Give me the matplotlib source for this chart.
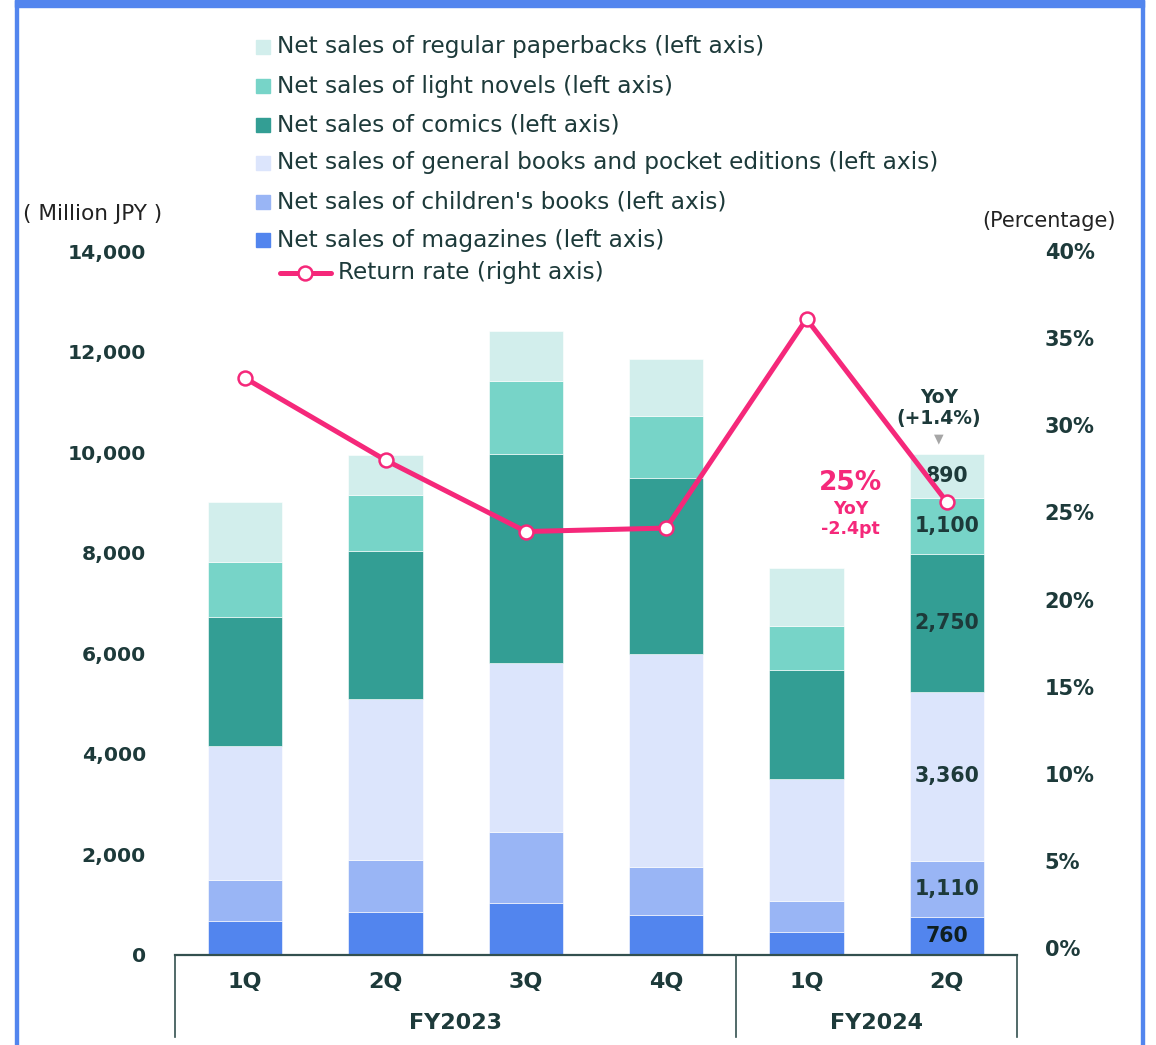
import matplotlib
matplotlib.use('Agg')
import matplotlib.pyplot as plt
from matplotlib.patches import Rectangle
from matplotlib.lines import Line2D

# ---------------- data ----------------
quarters = ['1Q', '2Q', '3Q', '4Q', '1Q', '2Q']
fiscal_years = ['FY2023', 'FY2024']
fy_spans = [(0, 3), (4, 5)]

magazines = [680, 860, 1030, 800, 460, 760]
childrens = [810, 1030, 1410, 950, 610, 1110]
general_books = [2670, 3210, 3370, 4240, 2430, 3360]
comics = [2570, 2940, 4150, 3490, 2170, 2750]
light_novels = [1090, 1110, 1450, 1230, 880, 1100]
paperbacks = [1180, 800, 990, 1150, 1140, 890]
return_rate = [32.7, 28.0, 23.9, 24.1, 36.1, 25.6]

left_ticks = [0, 2000, 4000, 6000, 8000, 10000, 12000, 14000]
right_ticks = [0, 5, 10, 15, 20, 25, 30, 35, 40]

series_labels = [
    "Net sales of magazines (left axis)",
    "Net sales of children's books (left axis)",
    "Net sales of general books and pocket editions (left axis)",
    "Net sales of comics (left axis)",
    "Net sales of light novels (left axis)",
    "Net sales of regular paperbacks (left axis)",
]
line_label = "Return rate (right axis)"
yoy_sales_text = "YoY\n(+1.4%)"
rate_text = "25%"
rate_yoy_text = "YoY\n-2.4pt"

# ---------------- styles ----------------
colors = ['#5285EE', '#99B5F5', '#DCE5FC', '#339E94', '#77D4C8', '#D2EEEC']
pink = '#F5287A'
dark = '#1d3a3a'
axis_col = '#33504f'

W, H = 1156, 1045
fig = plt.figure(figsize=(W / 100, H / 100), dpi=100)
fig.patch.set_facecolor('white')


def fx(px):
    return px / W


def fy(py):
    return 1 - py / H


ax = fig.add_axes([fx(175), fy(955), (1017 - 175) / W, (955 - 251) / H])
ax.set_facecolor('none')

x = list(range(len(quarters)))
stack = [magazines, childrens, general_books, comics, light_novels, paperbacks]
bottoms = [0] * len(x)
bar_w = 0.53
for vals, c in zip(stack, colors):
    ax.bar(x, vals, bottom=bottoms, width=bar_w, color=c,
           edgecolor='white', linewidth=0.4, zorder=2)
    # value labels on the latest quarter
    i = len(x) - 1
    ax.text(i, bottoms[i] + vals[i] / 2, f"{vals[i]:,}", ha='center', va='center',
            fontsize=14.8, fontweight='bold',
            color='#0f1f1f' if vals is magazines else dark, zorder=3)
    bottoms = [b + v for b, v in zip(bottoms, vals)]

ax.set_xlim(-0.5, len(x) - 0.5)
ax.set_ylim(0, 14000)
ax.set_yticks(left_ticks)
ax.set_yticklabels([f"{v:,}" for v in left_ticks])
ax.tick_params(axis='y', length=0, pad=21, labelsize=14.6, labelcolor=dark)
for lab in ax.get_yticklabels():
    lab.set_fontweight('bold')
ax.set_xticks([])
for s in ['top', 'left', 'right']:
    ax.spines[s].set_visible(False)
ax.spines['bottom'].set_color(axis_col)
ax.spines['bottom'].set_linewidth(1.6)

# category axis
xt = ax.get_xaxis_transform()
ah = 955 - 251
for i, q in enumerate(quarters):
    ax.text(i, -(982 - 955) / ah, q, transform=xt, ha='center', va='center',
            fontsize=16, fontweight='bold', color=dark)
for fyl, (a, b) in zip(fiscal_years, fy_spans):
    ax.text((a + b) / 2, -(1023 - 955) / ah, fyl, transform=xt, ha='center',
            va='center', fontsize=16, fontweight='bold', color=dark)
for xv in [-0.5, 3.5, 5.5]:
    ax.plot([xv, xv], [0, -(1037 - 955) / ah], transform=xt, color=axis_col,
            lw=1.2, clip_on=False)

# YoY annotation above latest bar
last_total = bottoms[-1]
ax.annotate("▼", xy=(len(x) - 1, last_total), xytext=(-8, 15),
            textcoords='offset pixels', ha='center', va='center',
            fontsize=9, color='#A6A6A6')
ax.annotate(yoy_sales_text, xy=(len(x) - 1, last_total), xytext=(-8, 46),
            textcoords='offset pixels', ha='center', va='center',
            fontsize=13.5, fontweight='bold', color=dark, linespacing=1.15)

# right axis: return rate
ax2 = ax.twinx()
ax2.set_ylim(-0.4, 40)
ax2.plot(x, return_rate, color=pink, lw=3.6, marker='o', ms=10,
         mfc='white', mec=pink, mew=1.8, zorder=5, solid_capstyle='round')
ax2.set_yticks(right_ticks)
ax2.set_yticklabels([f"{v}%" for v in right_ticks])
ax2.tick_params(axis='y', length=0, pad=20, labelsize=15, labelcolor=dark)
for lab in ax2.get_yticklabels():
    lab.set_fontweight('bold')
for s in ['top', 'left', 'right', 'bottom']:
    ax2.spines[s].set_visible(False)
ax2.set_xticks([])

ax2.annotate(rate_text, xy=(len(x) - 1, return_rate[-1]), xytext=(-96, 19),
             textcoords='offset pixels', ha='center', va='center',
             fontsize=19, fontweight='bold', color=pink)
ax2.annotate(rate_yoy_text, xy=(len(x) - 1, return_rate[-1]), xytext=(-96, -17),
             textcoords='offset pixels', ha='center', va='center',
             fontsize=12.5, fontweight='bold', color=pink, linespacing=1.15)

# unit labels
fig.text(fx(93), fy(214), "( Million JPY )", ha='center', va='center',
         fontsize=15.6, color='#222222')
fig.text(fx(1049), fy(221), "(Percentage)", ha='center', va='center',
         fontsize=15, color='#222222')

# legend (manual)
leg_rows = [47, 86, 125, 163, 202, 240]
for yrow, lab, c in zip(leg_rows, series_labels[::-1], colors[::-1]):
    fig.add_artist(Rectangle((fx(256), fy(yrow + 7)), 14 / W, 14 / H,
                             transform=fig.transFigure, color=c))
    fig.text(fx(277), fy(yrow), lab, ha='left', va='center', fontsize=16.75,
             color=dark)
fig.add_artist(Line2D([fx(280), fx(331)], [fy(273), fy(273)],
                      transform=fig.transFigure, color=pink, lw=3.6,
                      solid_capstyle='round'))
fig.add_artist(Line2D([fx(305)], [fy(273)], transform=fig.transFigure,
                      marker='o', ms=10, mfc='white', mec=pink, mew=1.8))
fig.text(fx(338), fy(273), line_label, ha='left', va='center', fontsize=16.75,
         color=dark)

# frame
frame_col = '#5285EE'
fig.add_artist(Rectangle((fx(15), fy(7)), (1144 - 15) / W, 7 / H,
                         transform=fig.transFigure, color=frame_col))
fig.add_artist(Rectangle((fx(15), 0), 3 / W, 1, transform=fig.transFigure,
                         color=frame_col))
fig.add_artist(Rectangle((fx(1141), 0), 3 / W, 1, transform=fig.transFigure,
                         color=frame_col))

fig.savefig('out.png', dpi=100, facecolor='white')
